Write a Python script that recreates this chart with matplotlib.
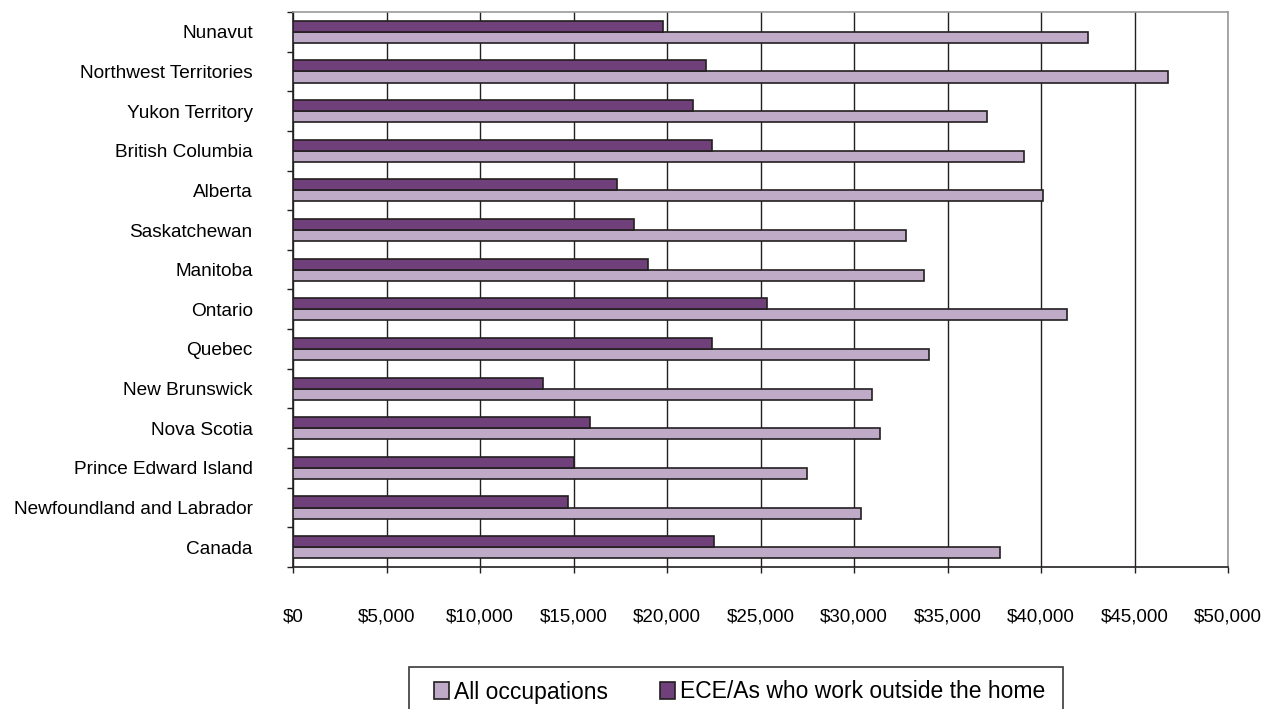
import matplotlib
matplotlib.use("Agg")
import matplotlib.pyplot as plt
from matplotlib.ticker import FixedLocator, FuncFormatter
from matplotlib.patches import Rectangle
import numpy as np

plt.rcParams['font.family'] = ['Liberation Sans', 'DejaVu Sans']

# bottom to top, as drawn
regions = ["Canada", "Newfoundland and Labrador", "Prince Edward Island", "Nova Scotia",
           "New Brunswick", "Quebec", "Ontario", "Manitoba", "Saskatchewan", "Alberta",
           "British Columbia", "Yukon Territory", "Northwest Territories", "Nunavut"]
all_occupations = [37800, 30400, 27500, 31400, 30950, 34000, 41400, 33750, 32800, 40100,
                   39100, 37100, 46800, 42500]
ece_outside_home = [22500, 14700, 15000, 15900, 13350, 22400, 25350, 19000, 18250, 17300,
                    22400, 21400, 22100, 19800]
x_ticks = list(range(0, 50001, 5000))

dark = "#6f4079"
light = "#bfaac8"
edge = "#231f20"

fig = plt.figure(figsize=(12.74, 7.09), dpi=100)
ax = fig.add_axes([293/1274, 1 - 567/709, (1228-293)/1274, (567-12)/709])

y = np.arange(len(regions))
h = 0.28
ax.barh(y - h/2, all_occupations, height=h, color=light, edgecolor=edge, linewidth=1.2,
        label="All occupations", zorder=3)
ax.barh(y + h/2, ece_outside_home, height=h, color=dark, edgecolor=edge, linewidth=1.2,
        label="ECE/As who work outside the home", zorder=3)

ax.set_xlim(0, 50000)
ax.set_ylim(-0.5, len(regions) - 0.5)

ax.set_xticks(x_ticks)
ax.xaxis.set_major_formatter(FuncFormatter(lambda v, p: "${:,.0f}".format(v)))
ax.tick_params(axis='x', direction='out', length=4, width=1, pad=26, labelsize=13.5, color=edge)
ax.grid(axis='x', color=edge, linewidth=1, zorder=1)

ax.set_yticks(y)
ax.set_yticklabels(regions)
ax.yaxis.set_minor_locator(FixedLocator(np.arange(-0.5, len(regions), 1)))
ax.tick_params(axis='y', which='major', length=0, pad=29, labelsize=13.7)
ax.tick_params(axis='y', which='minor', direction='out', length=4, width=1, color=edge)

for s in ['left', 'bottom']:
    ax.spines[s].set_color(edge)
    ax.spines[s].set_linewidth(1.2)
for s in ['top', 'right']:
    ax.spines[s].set_color('#9a9a9a')
    ax.spines[s].set_linewidth(1.2)

# legend: entries without frame, box drawn separately (runs off the bottom edge)
handles, labels = ax.get_legend_handles_labels()
leg = fig.legend(handles, labels, loc='center', ncol=2,
                 bbox_to_anchor=((442 + 1037) / 2 / 1274, 1 - 692/709), frameon=False,
                 fontsize=16.5, handlelength=0.65, handleheight=0.7,
                 handletextpad=0.2, columnspacing=2.3, borderpad=0)
fig.add_artist(Rectangle((409/1274, 1 - 720/709), (1063-409)/1274, (720-667)/709,
                         transform=fig.transFigure, fill=False, edgecolor='#3a3a3a',
                         linewidth=1.2, clip_on=False))

fig.savefig("out.png", dpi=100)
